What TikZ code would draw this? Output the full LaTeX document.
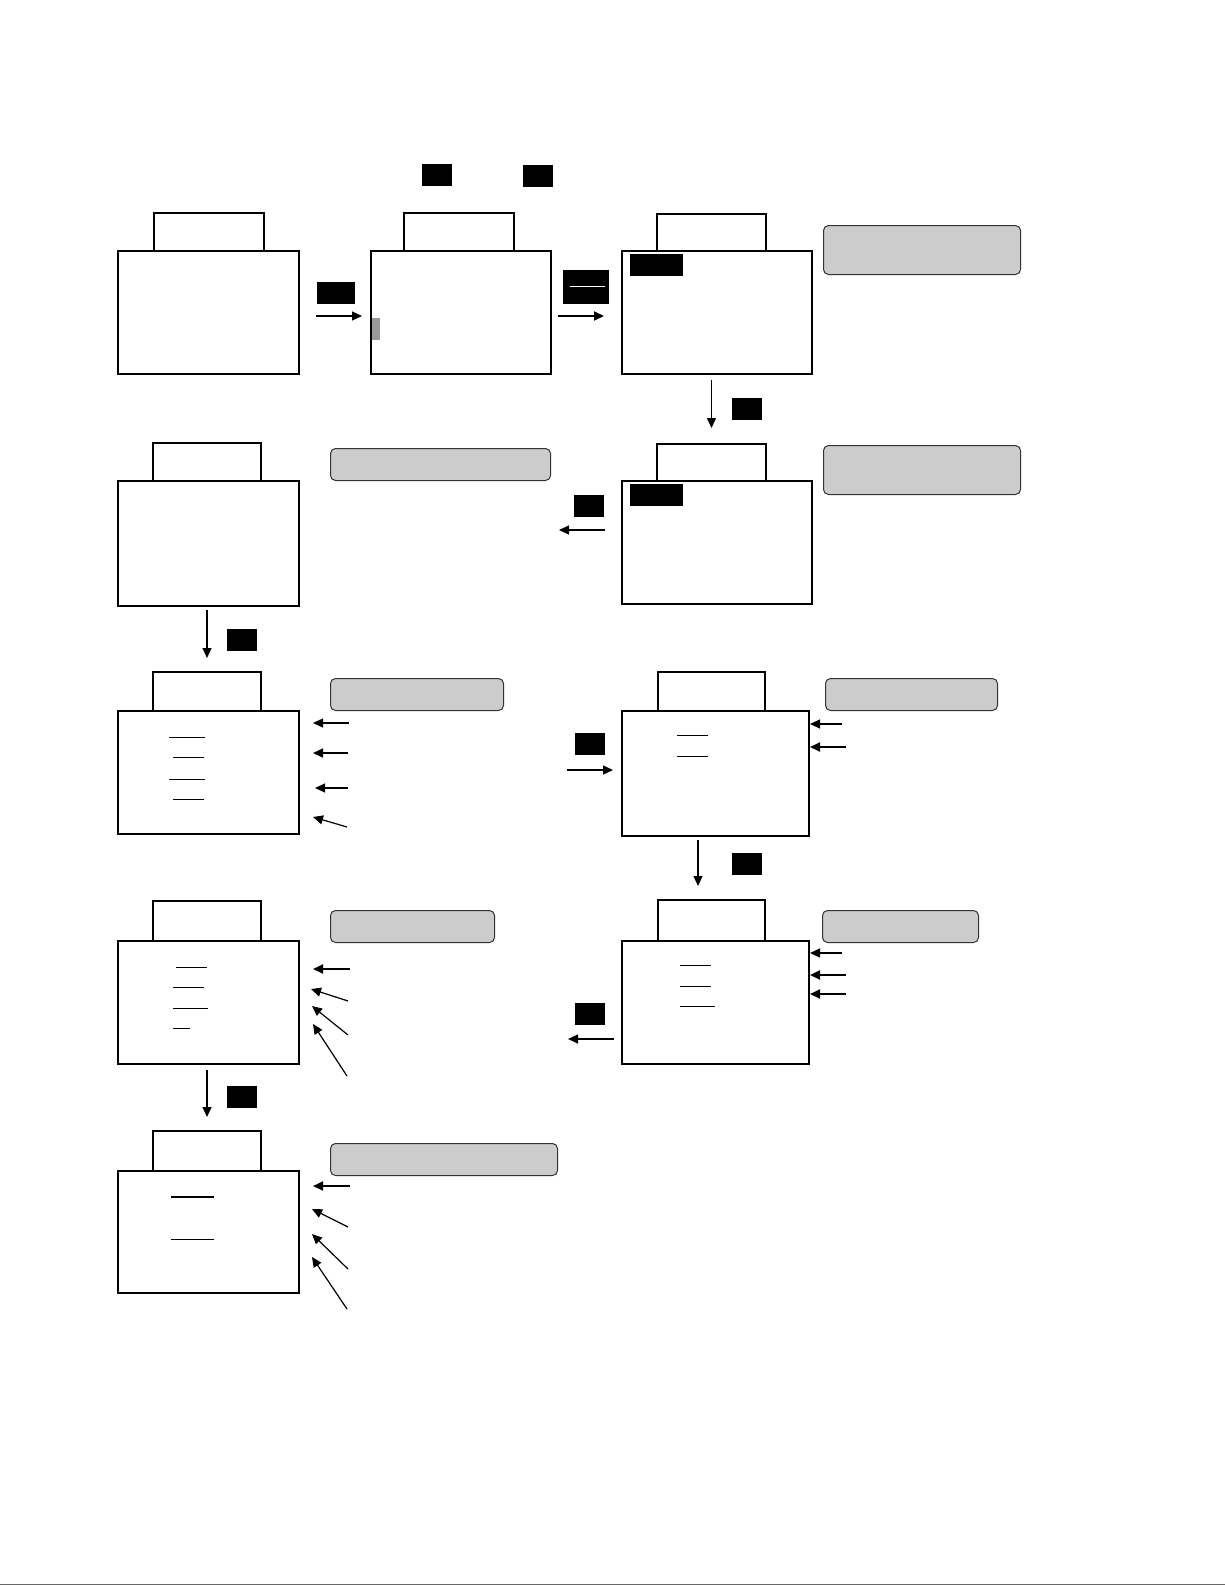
\documentclass[tikz,border=0pt]{standalone}
\usepackage{tikz}
\usetikzlibrary{arrows.meta,positioning,calc}

\begin{document}
\begin{tikzpicture}[
  x=1pt, y=-1pt,
  screen/.style={draw, line width=2pt, anchor=north west, inner sep=0pt, outer sep=0pt, minimum height=123pt},
  tab/.style={draw, line width=2pt, inner sep=0pt, outer sep=0pt, minimum width=108pt, minimum height=39pt},
  keycap/.style={fill=black, inner sep=0pt, minimum width=30pt, minimum height=22pt},
  note/.style={draw=black!80, fill=black!20, line width=1pt, rounded corners=5pt, anchor=north west, inner sep=0pt, minimum height=32pt},
  arr/.style={-{Triangle[length=10pt,width=9pt]}, line width=1.2pt},
  arrb/.style={arr, line width=2pt}
]
\useasboundingbox (0,0) rectangle (1225,1585);

% screens
\node[screen, minimum width=181pt] (scrA) at (118,251) {};
\node[screen, minimum width=180pt] (scrB) at (371,251) {};
\node[screen, minimum width=190pt] (scrC) at (622,251) {};
\node[screen, minimum width=190pt] (scrD) at (622,481) {};
\node[screen, minimum width=181pt, minimum height=125pt] (scrE) at (118,481) {};
\node[screen, minimum width=181pt] (scrF) at (118,711) {};
\node[screen, minimum width=187pt, minimum height=125pt] (scrG) at (622,711) {};
\node[screen, minimum width=187pt] (scrH) at (622,941) {};
\node[screen, minimum width=181pt] (scrI) at (118,941) {};
\node[screen, minimum width=181pt, minimum height=122pt] (scrJ) at (118,1171) {};

% tabs on top of the screens
\node[tab, above=0pt of scrA, minimum width=110pt, minimum height=38pt] (tabA) {};
\node[tab, above=0pt of scrB, xshift=-2pt, minimum width=110pt, minimum height=38pt] (tabB) {};
\node[tab, above=0pt of scrC, xshift=-5.5pt, minimum width=109pt, minimum height=37pt] (tabC) {};
\node[tab, above=0pt of scrD, xshift=-5.5pt, minimum width=109pt, minimum height=37pt] (tabD) {};
\node[tab, above=0pt of scrE, xshift=-1.5pt, minimum height=38pt] (tabE) {};
\node[tab, above=0pt of scrF, xshift=-1.5pt] (tabF) {};
\node[tab, above=0pt of scrG, xshift=-4pt, minimum width=107pt] (tabG) {};
\node[tab, above=0pt of scrH, xshift=-4pt, minimum width=107pt, minimum height=41pt] (tabH) {};
\node[tab, above=0pt of scrI, xshift=-1.5pt, minimum height=40pt] (tabI) {};
\node[tab, above=0pt of scrJ, xshift=-1.5pt, minimum height=40pt] (tabJ) {};

% keys
\node[keycap] (keyTopA) at (436.5,175) {};
\node[keycap] (keyTopB) at (538,176) {};
\node[keycap, minimum width=38pt] (keyAB) at (336,293) {};
\node[keycap, minimum width=46pt, minimum height=34pt] (keyBC) at (586,287) {};
\draw[white, line width=1pt] ($(keyBC.west)+(7,-1)$) -- ($(keyBC.east)+(-4,-1)$);
\node[keycap] (keyCD) at (747,409) {};
\node[keycap] (keyDE) at (589,505.5) {};
\node[keycap] (keyEF) at (242,640) {};
\node[keycap] (keyG) at (590,744) {};
\node[keycap] (keyGH) at (747,864) {};
\node[keycap] (keyH) at (590,1014) {};
\node[keycap] (keyIJ) at (242,1097) {};

% highlights inside screens
\node[keycap, minimum width=53pt] (hiC) at (656.5,265) {};
\node[keycap, minimum width=53pt] (hiD) at (656.5,495) {};
\node[fill=black!40, inner sep=0pt, minimum width=8pt, minimum height=22pt] (cursorB) at (376,329) {};

% notes
\node[note, minimum width=197pt, minimum height=49pt] (noteC) at (823,225) {};
\node[note, minimum width=197pt, minimum height=49pt] (noteD) at (823,445) {};
\node[note, minimum width=220pt] (noteE) at (330,448) {};
\node[note, minimum width=173pt] (noteF) at (330,678) {};
\node[note, minimum width=172pt] (noteG) at (825,678) {};
\node[note, minimum width=156pt] (noteH) at (822,910) {};
\node[note, minimum width=164pt] (noteI) at (330,910) {};
\node[note, minimum width=227pt] (noteJ) at (330,1143) {};

% flow between screens
\draw[arr, shorten <=17pt, shorten >=9pt] ([yshift=-3.5pt]scrA.east) -- ([yshift=-3.5pt]scrB.west);
\draw[arrb, shorten <=7pt, shorten >=18pt] ([yshift=-3.5pt]scrB.east) -- ([yshift=-3.5pt]scrC.west);
\draw[arr, line width=1.5pt, shorten <=6pt, shorten >=16pt] (tabD.north |- scrC.south) -- (tabD.north);
\coordinate (endDE) at (559,530);
\draw[arr, shorten <=17pt] (scrD.west |- endDE) -- (endDE);
\draw[arr, shorten <=4pt, shorten >=14pt] (tabF.north |- scrE.south) -- (tabF.north);
\coordinate (startG) at (567,770);
\draw[arr, line width=1.5pt, shorten >=9pt] (startG) -- (scrG.west |- startG);
\draw[arr, shorten <=4pt, shorten >=14pt] ([xshift=-13.5pt]tabH.north |- scrG.south) -- ([xshift=-13.5pt]tabH.north);
\coordinate (endHI) at (568,1039);
\draw[arr, shorten <=8pt] (scrH.west |- endHI) -- (endHI);
\draw[arr, shorten <=6pt, shorten >=14pt] (tabJ.north |- scrI.south) -- (tabJ.north);

% pointers to the screen lines
\foreach \i/\sx/\sy/\dx/\dy/\lw in {1/349/723/14/12/1.3, 2/348/753/14/42/1.5, 3/348/788/16/77/1.2, 4/347/827/14/106/1.2} {
  \coordinate (txtF\i) at (\sx,\sy);
  \draw[arr, line width=\lw pt] (txtF\i) -- ($(scrF.north east)+(\dx,\dy)$);
}
\foreach \i/\sx/\sy/\dx/\dy/\lw in {1/842/724/1/13/1.3, 2/846/747/1/36/2} {
  \coordinate (txtG\i) at (\sx,\sy);
  \draw[arr, line width=\lw pt] (txtG\i) -- ($(scrG.north east)+(\dx,\dy)$);
}
\foreach \i/\sx/\sy/\dx/\dy/\lw in {1/842/953/1/12/1.2, 2/846/975/1/34/2, 3/846/994/1/53/2} {
  \coordinate (txtH\i) at (\sx,\sy);
  \draw[arr, line width=\lw pt] (txtH\i) -- ($(scrH.north east)+(\dx,\dy)$);
}
\foreach \i/\sx/\sy/\dx/\dy/\lw in {1/350/969/14/28/2, 2/348/1001/12/48/1.2, 3/348/1035/13/65/1.2, 4/347/1076/14/83/1.2} {
  \coordinate (txtI\i) at (\sx,\sy);
  \draw[arr, line width=\lw pt] (txtI\i) -- ($(scrI.north east)+(\dx,\dy)$);
}
\foreach \i/\sx/\sy/\dx/\dy/\lw in {1/350/1186/14/15/2, 2/348/1227/13/38/1.2, 3/348/1269/13/63/1.2, 4/347/1309/13/86/1.2} {
  \coordinate (txtJ\i) at (\sx,\sy);
  \draw[arr, line width=\lw pt] (txtJ\i) -- ($(scrJ.north east)+(\dx,\dy)$);
}

% underlines inside screens
\foreach \xa/\xb/\yy in {169/205/737, 173/204/757, 169/205/779, 173/204/799,
    677/708/735, 677/708/756, 680/711/965, 680/711/986, 680/715/1006,
    176/207/967, 173/204/987, 173/208/1008, 173/190/1028, 171/214/1239}
  \draw[line width=1pt] (\xa,\yy) -- (\xb,\yy);
\draw[line width=1.8pt] (171,1197) -- (214,1197);

% bottom edge
\draw[line width=1pt, black!60] (0,1584.5) -- (1225,1584.5);
\end{tikzpicture}
\end{document}
